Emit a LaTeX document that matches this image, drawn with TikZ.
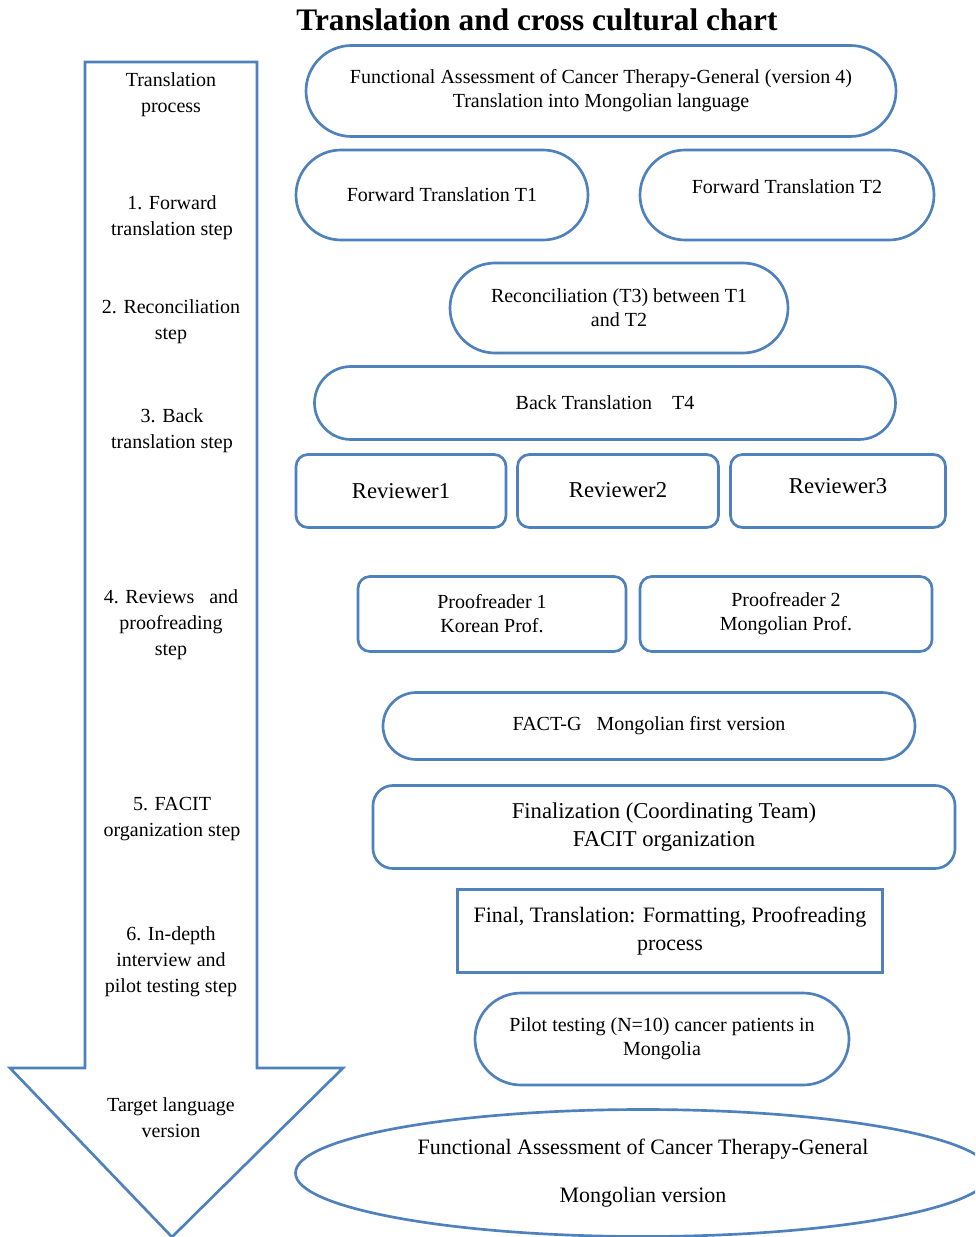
\documentclass[tikz,border=0pt]{standalone}
\usepackage{fontspec}
\setmainfont{Liberation Serif}
\usetikzlibrary{shapes.misc,shapes.geometric}
\definecolor{ob}{RGB}{79,129,189}
\begin{document}
\begin{tikzpicture}[x=0.75pt,y=-0.75pt,
  every node/.style={inner sep=0pt, align=center, font=\fontsize{15}{18}\selectfont},
  stad/.style={draw=ob, line width=2pt, rounded rectangle},
  rbox/.style={draw=ob, line width=2pt, rectangle, rounded corners=9pt},
  sbox/.style={draw=ob, line width=2pt, rectangle},
  oval/.style={draw=ob, line width=2pt, ellipse},
  side/.style={font=\fontsize{15}{19.5}\selectfont},
  arrowline/.style={draw=ob, line width=2pt, line join=miter}
]
\clip (0,0) rectangle (975,1237);
\fill[white] (0,0) rectangle (975,1237);

% title
\node[font=\bfseries\fontsize{23.5}{26}\selectfont] (title) at (537,20) {Translation and cross cultural chart};

% big arrow
\coordinate (a1) at (85,62);
\coordinate (a2) at (257,62);
\coordinate (a3) at (257,1068);
\coordinate (a4) at (343,1068);
\coordinate (a5) at (172,1237);
\coordinate (a6) at (10,1068);
\coordinate (a7) at (85,1068);
\draw[arrowline] (a1) -- (a2) -- (a3) -- (a4) -- (a5) -- (a6) -- (a7) -- cycle;

\node[side] (s0) at (171,95) {Translation\\process};
\node[side] (s1) at (172,218) {1. Forward\\translation step};
\node[side] (s2) at (171,322) {2. Reconciliation\\step};
\node[side] (s3) at (172,431) {3. Back\\translation step};
\node[side] (s4) at (171,625) {4. Reviews\ \ \ and\\proofreading\\step};
\node[side] (s5) at (172,819) {5. FACIT\\organization step};
\node[side] (s6) at (171,962) {6. In-depth\\interview and\\pilot testing step};
\node[side] (s7) at (171,1118) {Target language\\version};

% right column
\node[stad, minimum width=590*0.75pt, minimum height=91*0.75pt] (n1) at (601,91)
  {Functional Assessment of Cancer Therapy-General (version 4)\\Translation into Mongolian language};
\node[stad, minimum width=292*0.75pt, minimum height=90*0.75pt] (t1) at (442,195)
  {Forward Translation T1};
\node[stad, minimum width=294*0.75pt, minimum height=90*0.75pt] (t2) at (787,195)
  {\raisebox{12pt}{Forward Translation T2}};
\node[stad, minimum width=338*0.75pt, minimum height=90*0.75pt] (t3) at (619,308)
  {Reconciliation (T3) between T1\\and T2};
\node[stad, minimum width=581*0.75pt, minimum height=73*0.75pt] (t4) at (605,403)
  {Back Translation\ \ \ \ T4};
\node[rbox, minimum width=210*0.75pt, minimum height=73*0.75pt, font=\fontsize{17}{20}\selectfont] (r1) at (401,491)
  {Reviewer1};
\node[rbox, minimum width=201*0.75pt, minimum height=73*0.75pt, font=\fontsize{17}{20}\selectfont] (r2) at (618,491)
  {\raisebox{2pt}{Reviewer2}};
\node[rbox, minimum width=215*0.75pt, minimum height=73*0.75pt, font=\fontsize{17}{20}\selectfont] (r3) at (838,491)
  {\raisebox{8pt}{Reviewer3}};
\node[rbox, minimum width=268*0.75pt, minimum height=75*0.75pt] (p1) at (492,614)
  {Proofreader 1\\Korean Prof.};
\node[rbox, minimum width=292*0.75pt, minimum height=75*0.75pt] (p2) at (786,614)
  {Proofreader 2\\Mongolian Prof.};
\node[stad, minimum width=532*0.75pt, minimum height=67*0.75pt] (fg) at (649,726)
  {\raisebox{4pt}{FACT-G\ \ \ Mongolian first version}};
\node[rbox, rounded corners=15pt, minimum width=582*0.75pt, minimum height=83*0.75pt, font=\fontsize{17}{21.5}\selectfont] (fin) at (664,827)
  {Finalization (Coordinating Team)\\FACIT organization};
\node[sbox, minimum width=425*0.75pt, minimum height=83*0.75pt, font=\fontsize{16.5}{21}\selectfont] (ft) at (670,931)
  {\raisebox{7pt}{\begin{tabular}{@{}c@{}}Final, Translation: Formatting, Proofreading\\process\end{tabular}}};
\node[stad, minimum width=374*0.75pt, minimum height=92*0.75pt] (pt) at (662,1039)
  {Pilot testing (N=10) cancer patients in\\Mongolia};
\node[oval, minimum width=695*0.75pt, minimum height=127*0.75pt, font=\fontsize{16.5}{36}\selectfont] (fv) at (643,1173)
  {Functional Assessment of Cancer Therapy-General\\Mongolian version};
\end{tikzpicture}
\end{document}
